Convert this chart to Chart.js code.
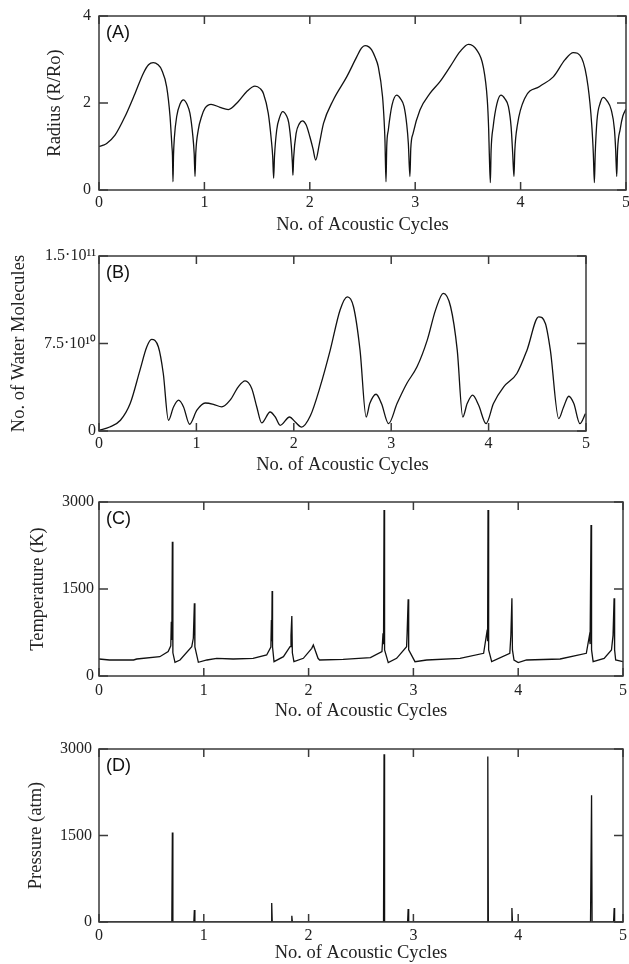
<!DOCTYPE html>
<html>
<head>
<meta charset="utf-8">
<script src="https://cdn.jsdelivr.net/npm/chart.js@4/dist/chart.umd.min.js"></script>
<style>
  body { margin: 0; background: #fff; overflow: hidden; }
  canvas { position: absolute; left: 0; }
</style>
</head>
<body>
<canvas id="chart-a" width="629" height="240" style="top:0px"></canvas>
<canvas id="chart-b" width="629" height="240" style="top:240px"></canvas>
<canvas id="chart-c" width="629" height="244" style="top:480px"></canvas>
<canvas id="chart-d" width="629" height="240" style="top:724px"></canvas>
<script>
// x 값 (음향 주기)
var xTicks = [0, 1, 2, 3, 4, 5];

// (A) 반경 R/Ro
var radiusX = [
  0, 0.04, 0.073, 0.152, 0.247, 0.342, 0.42, 0.47, 0.515, 0.56, 0.595, 0.642,
  0.674, 0.692, 0.697, 0.702, 0.707, 0.715, 0.737, 0.77, 0.8, 0.835, 0.863,
  0.89, 0.903, 0.911, 0.918, 0.942, 0.975, 1.006, 1.063, 1.148, 1.227, 1.32,
  1.4, 1.48, 1.53, 1.56, 1.606, 1.635, 1.648, 1.657, 1.665, 1.686, 1.715,
  1.743, 1.78, 1.8, 1.825, 1.835, 1.84, 1.847, 1.87, 1.9, 1.93, 1.965, 2.0,
  2.03, 2.056, 2.09, 2.13, 2.223, 2.35, 2.445, 2.49, 2.524, 2.56, 2.587, 2.62,
  2.65, 2.69, 2.705, 2.713, 2.723, 2.73, 2.745, 2.78, 2.824, 2.86, 2.894,
  2.92, 2.935, 2.95, 2.958, 2.98, 3.045, 3.14, 3.235, 3.33, 3.425, 3.504,
  3.583, 3.646, 3.684, 3.697, 3.703, 3.713, 3.72, 3.74, 3.775, 3.814, 3.85,
  3.884, 3.91, 3.925, 3.937, 3.945, 3.97, 4.04, 4.18, 4.31, 4.42, 4.5, 4.58,
  4.64, 4.675, 4.69, 4.7, 4.708, 4.725, 4.755, 4.785, 4.82, 4.86, 4.89, 4.902,
  4.912, 4.92, 4.945, 4.97, 5.0,
];
var radiusY = [
  1.0, 1.03, 1.07, 1.26, 1.69, 2.22, 2.68, 2.88, 2.93, 2.88, 2.76, 2.37,
  1.69, 1.0, 0.8, 0.19, 0.8, 1.2, 1.69, 1.98, 2.07, 1.97, 1.76,
  1.25, 0.84, 0.31, 0.84, 1.38, 1.7, 1.88, 1.97, 1.9, 1.85, 2.03,
  2.26, 2.39, 2.33, 2.22, 1.76, 1.15, 0.77, 0.27, 0.77, 1.38, 1.68,
  1.8, 1.7, 1.55, 1.0, 0.61, 0.34, 0.75, 1.3, 1.52, 1.59, 1.5, 1.23,
  0.95, 0.69, 1.05, 1.53, 2.07, 2.6, 3.06, 3.26, 3.32, 3.29, 3.22, 3.05,
  2.83, 2.15, 1.6, 1.15, 0.19, 1.0, 1.38, 1.95, 2.18, 2.1, 1.92,
  1.5, 1.07, 0.31, 0.95, 1.3, 1.84, 2.22, 2.49, 2.83, 3.18, 3.35,
  3.22, 2.83, 2.07, 1.4, 0.84, 0.17, 0.9, 1.46, 1.98, 2.18, 2.1,
  1.92, 1.45, 0.84, 0.31, 0.9, 1.5, 2.11, 2.38, 2.6, 2.99, 3.16, 3.03,
  2.38, 1.5, 0.84, 0.17, 0.84, 1.61, 2.0, 2.13, 2.05, 1.84, 1.4, 0.92,
  0.31, 0.92, 1.4, 1.7, 1.86,
];

// (B) 물 분자 수
var waterX = [
  0, 0.11, 0.22, 0.32, 0.42, 0.49, 0.54, 0.61, 0.66, 0.713, 0.765, 0.817,
  0.868, 0.93, 1.005, 1.09, 1.175, 1.26, 1.346, 1.43, 1.5, 1.568, 1.62, 1.67,
  1.757, 1.81, 1.86, 1.957, 2.015, 2.08, 2.17, 2.27, 2.374, 2.476, 2.55, 2.613,
  2.68, 2.743, 2.78, 2.845, 2.9, 2.973, 3.06, 3.16, 3.265, 3.37, 3.455, 3.535,
  3.61, 3.678, 3.735, 3.78, 3.836, 3.898, 3.974, 4.05, 4.155, 4.29, 4.394,
  4.514, 4.583, 4.634, 4.72, 4.77, 4.823, 4.875, 4.937, 4.995,
];
var waterY = [
  0.06e10, 0.34e10, 0.92e10, 2.35e10, 5.2e10, 7.2e10, 7.85e10, 7.2e10, 4.93e10,
  0.92e10, 2.06e10, 2.64e10, 2.06e10, 0.58e10, 1.78e10, 2.4e10, 2.29e10,
  2.06e10, 2.64e10, 3.78e10, 4.29e10, 3.64e10, 2.06e10, 0.69e10, 1.63e10,
  1.2e10, 0.49e10, 1.2e10, 0.77e10, 0.34e10, 1.3e10, 3.78e10, 6.93e10,
  10.4e10, 11.5e10, 10.65e10, 6.93e10, 1.2e10, 2.35e10, 3.15e10, 2.35e10,
  0.63e10, 2.35e10, 4.07e10, 5.5e10, 7.79e10, 10.36e10, 11.8e10, 10.65e10,
  6.93e10, 1.2e10, 2.35e10, 3.07e10, 2.2e10, 0.63e10, 2.35e10, 3.78e10,
  4.93e10, 6.93e10, 9.79e10, 9.22e10, 6.93e10, 1.06e10, 2.06e10, 2.98e10,
  2.35e10, 0.63e10, 1.49e10,
];
var waterTickLabels = ["0", "7.5·10¹⁰", "1.5·10¹¹"];

// (C) 온도 K
var tempX = [
  0, 0.1, 0.33, 0.36, 0.58, 0.66, 0.685, 0.69, 0.695, 0.7, 0.705, 0.725, 0.773,
  0.885, 0.9, 0.91, 0.915, 0.948, 1.03, 1.123, 1.28, 1.47, 1.6, 1.64, 1.645,
  1.648, 1.652, 1.656, 1.67, 1.76, 1.823, 1.832, 1.84, 1.845, 1.86, 1.95, 2.03,
  2.045, 2.09, 2.105, 2.33, 2.59, 2.7, 2.71, 2.715, 2.72, 2.725, 2.76, 2.84,
  2.935, 2.94, 2.95, 2.955, 3.015, 3.127, 3.445, 3.67, 3.705, 3.708, 3.712,
  3.718, 3.747, 3.92, 3.93, 3.94, 3.945, 3.96, 4.0, 4.08, 4.4, 4.65, 4.68,
  4.686, 4.695, 4.7, 4.715, 4.82, 4.89, 4.905, 4.915, 4.92, 4.93, 5.0,
];
var tempY = [
  293, 276, 276, 293, 333, 420, 520, 936, 620, 2316, 400, 236, 276,
  505, 650, 1253, 500, 236, 276, 305, 293, 305, 362, 500, 965,
  600, 1465, 500, 247, 333, 505, 700, 1034, 400, 247, 305, 477,
  534, 305, 276, 288, 316, 420, 736, 550, 2862, 450, 230, 305,
  505, 736, 1322, 450, 247, 276, 305, 391, 800, 600, 2862,
  450, 247, 391, 700, 1340, 450, 276, 230, 276, 293, 391, 700,
  550, 2603, 450, 247, 305, 448, 700, 1340, 450, 276, 247,
];

// (D) 압력 atm
var pressX = [
  0, 0.695, 0.7, 0.705, 0.905, 0.91, 0.915, 1.643, 1.648, 1.653, 1.835, 1.84,
  1.845, 2.715, 2.72, 2.725, 2.945, 2.95, 2.955, 3.705, 3.71, 3.715, 3.935,
  3.94, 3.945, 4.69, 4.7, 4.705, 4.91, 4.916, 4.92, 5.0,
];
var pressY = [
  0, 0, 1552, 0, 0, 208, 0, 0, 329, 0, 0, 109,
  0, 0, 2908, 0, 0, 225, 0, 0, 2868, 0, 0,
  242, 0, 0, 2198, 0, 0, 242, 0, 0,
];

var serif = "'Liberation Serif', 'Times New Roman', serif";

// 테두리 + 안쪽 눈금 + (A) 글자
var framePlugin = {
  id: "frame",
  afterDraw: function (chart, args, opts) {
    var ctx = chart.ctx;
    var a = chart.chartArea;
    var sx = chart.scales.x;
    var sy = chart.scales.y;
    ctx.save();
    ctx.strokeStyle = "#3a3a3a";
    ctx.lineWidth = 1.5;
    ctx.strokeRect(a.left, a.top, a.right - a.left, a.bottom - a.top);
    ctx.beginPath();
    sx.ticks.forEach(function (t) {
      var px = sx.getPixelForValue(t.value);
      ctx.moveTo(px, a.bottom);
      ctx.lineTo(px, a.bottom - 8);
      ctx.moveTo(px, a.top);
      ctx.lineTo(px, a.top + 8);
    });
    sy.ticks.forEach(function (t) {
      var py = sy.getPixelForValue(t.value);
      ctx.moveTo(a.left, py);
      ctx.lineTo(a.left + 9, py);
      ctx.moveTo(a.right, py);
      ctx.lineTo(a.right - 9, py);
    });
    ctx.stroke();
    ctx.fillStyle = "#111";
    ctx.font = "18px 'Liberation Sans', Arial, sans-serif";
    ctx.textBaseline = "top";
    ctx.fillText(opts.text, a.left + 7, a.top + 8);
    ctx.restore();
  },
};

function toPoints(xs, ys) {
  return xs.map(function (x, i) {
    return { x: x, y: ys[i] };
  });
}

function makeChart(id, p) {
  var canvas = document.getElementById(id);
  var h = canvas.height;
  return new Chart(canvas, {
    type: "line",
    data: {
      datasets: [
        {
          data: toPoints(p.xs, p.ys),
          borderColor: "#111",
          borderWidth: 1.3,
          pointRadius: 0,
          tension: p.smooth ? 0.4 : 0,
          cubicInterpolationMode: p.smooth ? "monotone" : "default",
          fill: false,
        },
      ],
    },
    options: {
      responsive: false,
      animation: false,
      layout: {
        padding: { left: 0, top: p.top, right: 629 - p.right, bottom: 0 },
      },
      plugins: {
        legend: { display: false },
        tooltip: { enabled: false },
        frame: { text: p.label },
      },
      scales: {
        x: {
          type: "linear",
          min: 0,
          max: 5,
          afterBuildTicks: function (scale) {
            scale.ticks = xTicks.map(function (v) {
              return { value: v };
            });
          },
          grid: { display: false, drawTicks: false },
          border: { display: false },
          ticks: {
            color: "#222",
            padding: p.xTickPad,
            maxRotation: 0,
            font: { family: serif, size: 16 },
          },
          title: {
            display: true,
            text: "No. of Acoustic Cycles",
            color: "#222",
            font: { family: serif, size: 18.5 },
            padding: { top: 0, bottom: p.xTitlePad },
          },
          afterFit: function (scale) {
            scale.height = h - p.bottom;
            scale.paddingLeft = 0;
            scale.paddingRight = 0;
          },
        },
        y: {
          type: "linear",
          min: 0,
          max: p.yMax,
          ticks: {
            stepSize: p.yStep,
            color: "#222",
            padding: p.yTickPad,
            font: { family: serif, size: 16 },
            callback: p.yLabels
              ? function (v, i) {
                  return p.yLabels[i];
                }
              : function (v) {
                  return v;
                },
          },
          grid: { display: false, drawTicks: false },
          border: { display: false },
          title: {
            display: true,
            text: p.yTitle,
            color: "#222",
            font: { family: serif, size: 18.5 },
            padding: { top: p.yTitlePad, bottom: 0 },
          },
          afterFit: function (scale) {
            scale.width = 99;
            scale.paddingTop = 0;
            scale.paddingBottom = 0;
          },
        },
      },
    },
    plugins: [framePlugin],
  });
}

makeChart("chart-a", {
  xs: radiusX, ys: radiusY, smooth: true, label: "(A)",
  top: 16, bottom: 190, right: 626,
  yMax: 4, yStep: 2, yTitle: "Radius (R/Ro)",
  yTitlePad: 44, yTickPad: 8, xTickPad: 3, xTitlePad: 4,
});

makeChart("chart-b", {
  xs: waterX, ys: waterY, smooth: true, label: "(B)",
  top: 16, bottom: 191, right: 586,
  yMax: 1.5e11, yStep: 7.5e10, yLabels: waterTickLabels,
  yTitle: "No. of Water Molecules",
  yTitlePad: 8, yTickPad: 3, xTickPad: 3, xTitlePad: 4,
});

makeChart("chart-c", {
  xs: tempX, ys: tempY, smooth: false, label: "(C)",
  top: 22, bottom: 196, right: 623,
  yMax: 3000, yStep: 1500, yTitle: "Temperature (K)",
  yTitlePad: 27, yTickPad: 5, xTickPad: 5, xTitlePad: 2,
});

makeChart("chart-d", {
  xs: pressX, ys: pressY, smooth: false, label: "(D)",
  top: 25, bottom: 198, right: 623,
  yMax: 3000, yStep: 1500, yTitle: "Pressure (atm)",
  yTitlePad: 25, yTickPad: 7, xTickPad: 4, xTitlePad: 0,
});
</script>
</body>
</html>
